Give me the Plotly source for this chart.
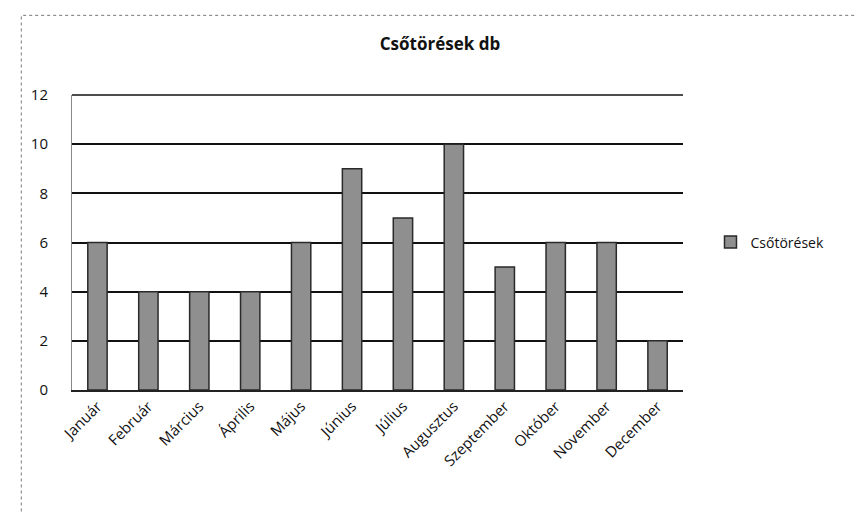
import plotly.graph_objects as go

months = ["Január", "Február", "Március", "Április", "Május", "Június",
          "Július", "Augusztus", "Szeptember", "Október", "November", "December"]
breaks = [6, 4, 4, 4, 6, 9, 7, 10, 5, 6, 6, 2]
series_name = "Csőtörések"
title_text = "Csőtörések db"
y_ticks = [0, 2, 4, 6, 8, 10, 12]

font_family = "Open Sans, DejaVu Sans, sans-serif"

fig = go.Figure()
fig.add_trace(go.Bar(
    x=months,
    y=breaks,
    name=series_name,
    marker=dict(color="#8f8f8f", line=dict(color="#2a2a2a", width=1.5)),
    showlegend=True,
))

fig.update_layout(
    width=856,
    height=514,
    paper_bgcolor="white",
    plot_bgcolor="white",
    margin=dict(l=72, r=173, t=95, b=124),
    bargap=0.62,
    title=dict(text="<b>" + title_text + "</b>", x=0.514, xanchor="center",
               y=0.915, yanchor="middle",
               font=dict(family=font_family, size=17, color="#111")),
    font=dict(family=font_family, color="#111"),
    showlegend=True,
    legend=dict(x=1.045, y=0.5, xanchor="left", yanchor="middle",
                font=dict(size=14, color="#111"), itemwidth=30,
                bgcolor="rgba(0,0,0,0)"),
    xaxis=dict(
        tickangle=-45,
        tickfont=dict(size=15, color="#111"),
        showline=True, linecolor="#222", linewidth=1.5,
        showgrid=False, ticks="",
    ),
    yaxis=dict(
        range=[0, y_ticks[-1]],
        tickvals=y_ticks,
        tickfont=dict(size=15, color="#111"),
        showgrid=True, gridcolor="#111", gridwidth=1.5,
        showline=True, linecolor="#888", linewidth=1,
        zeroline=False, ticks="", ticklabelstandoff=20,
    ),
    shapes=[
        # top gridline at the axis maximum (top edge of the plot area)
        dict(type="line", xref="paper", yref="paper", x0=0, x1=1,
             y0=1, y1=1, line=dict(color="#111", width=1.5)),
        # dotted chart-area frame
        dict(type="rect", xref="paper", yref="paper",
             x0=-0.083, x1=1.4, y0=-0.8, y1=1.27,
             line=dict(color="#777", width=1, dash="dot")),
    ],
)

fig.write_html("out.html")
